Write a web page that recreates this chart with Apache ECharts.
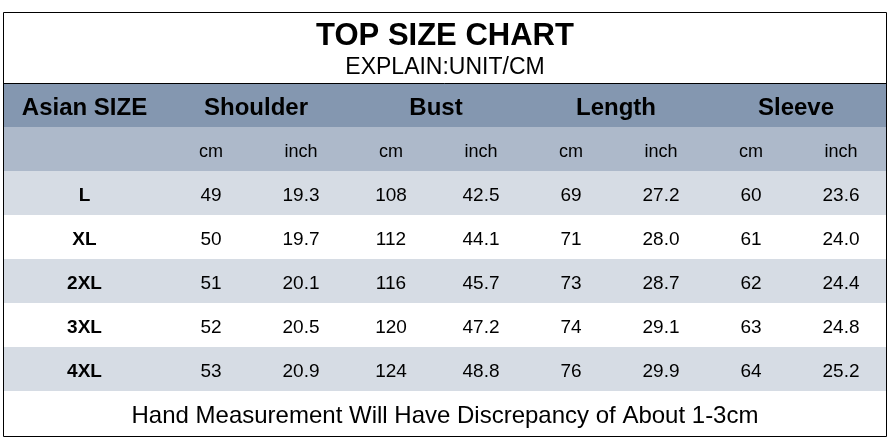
<!DOCTYPE html>
<html>
<head>
<meta charset="utf-8">
<script src="https://cdn.jsdelivr.net/npm/echarts@6/dist/echarts.min.js"></script>
<style>html,body{margin:0;padding:0;background:#fff;}#c{width:890px;height:445px;}</style>
</head>
<body>
<div id="c"></div>
<script>
// ---- data ----
const titleText = 'TOP SIZE CHART';
const subtitleText = 'EXPLAIN:UNIT/CM';
const footerText = 'Hand Measurement Will Have Discrepancy of About 1-3cm';
const sizeHeader = 'Asian SIZE';
const sizes = ['L', 'XL', '2XL', '3XL', '4XL'];
const measures = ['Shoulder', 'Bust', 'Length', 'Sleeve'];
const units = ['cm', 'inch'];
const shoulderCm = [49, 50, 51, 52, 53];
const shoulderIn = [19.3, 19.7, 20.1, 20.5, 20.9];
const bustCm = [108, 112, 116, 120, 124];
const bustIn = [42.5, 44.1, 45.7, 47.2, 48.8];
const lengthCm = [69, 71, 73, 74, 76];
const lengthIn = [27.2, 28.0, 28.7, 29.1, 29.9];
const sleeveCm = [60, 61, 62, 63, 64];
const sleeveIn = [23.6, 24.0, 24.4, 24.8, 25.2];

// ---- layout / style ----
const FONT = "'Liberation Sans', Arial, sans-serif";
const DY = 3;
const rowNames = ['head1', 'head2'].concat(sizes);
const colNames = [];
measures.forEach(m => units.forEach(u => colNames.push(m + ' ' + u)));
const rowColors = ['#8497b0', '#adb9ca', '#d6dce4', '#ffffff', '#d6dce4', '#ffffff', '#d6dce4'];

const valueCols = [shoulderCm, shoulderIn, bustCm, bustIn, lengthCm, lengthIn, sleeveCm, sleeveIn];
const valueData = [], valueLabels = [];
valueCols.forEach((arr, c) => {
  arr.forEach((v, r) => {
    valueData.push([c, r + 2]);
    valueLabels.push(c % 2 === 1 ? v.toFixed(1) : String(v));
  });
});
const unitData = colNames.map((n, c) => [c, 1]);
const measureData = measures.map((m, i) => [i * 2, 0]);
const sizeData = sizes.map((s, i) => [0, i + 2]);

function bgRender(params, api) {
  const row = api.value(1);
  const p = api.coord([0, row]);
  const h = api.size([0, 1])[1];
  const cs = params.coordSys;
  return {
    type: 'rect',
    shape: { x: cs.x, y: p[1] - h / 2, width: cs.width, height: h },
    style: { fill: rowColors[row] }
  };
}
function textEl(x, y, text, size, bold) {
  return {
    type: 'text',
    x: x, y: y + DY,
    style: {
      text: text, fill: '#000', font: (bold ? 'bold ' : '') + size + 'px ' + FONT,
      align: 'center', verticalAlign: 'middle'
    }
  };
}

const chart = echarts.init(document.getElementById('c'), null, { renderer: 'canvas' });
chart.setOption({
  backgroundColor: '#fff',
  animation: false,
  grid: [
    { left: 3, top: 83, width: 163, height: 308 },
    { left: 166, top: 83, width: 720, height: 308 }
  ],
  xAxis: [
    { type: 'category', gridIndex: 0, data: ['size'], show: false },
    { type: 'category', gridIndex: 1, data: colNames, show: false }
  ],
  yAxis: [
    { type: 'category', gridIndex: 0, data: rowNames, inverse: true, show: false },
    { type: 'category', gridIndex: 1, data: rowNames, inverse: true, show: false }
  ],
  series: [
    { type: 'custom', xAxisIndex: 0, yAxisIndex: 0, data: rowNames.map((n, i) => [0, i]), renderItem: bgRender, silent: true, z: 1 },
    { type: 'custom', xAxisIndex: 1, yAxisIndex: 1, data: rowNames.map((n, i) => [0, i]), renderItem: bgRender, silent: true, z: 1 },
    {
      type: 'custom', xAxisIndex: 0, yAxisIndex: 0, data: [[0, 0]], z: 3,
      renderItem: function (params, api) {
        const p = api.coord([0, 0]);
        return textEl(p[0], p[1], sizeHeader, 24, true);
      }
    },
    {
      type: 'custom', xAxisIndex: 0, yAxisIndex: 0, data: sizeData, z: 3,
      renderItem: function (params, api) {
        const p = api.coord([api.value(0), api.value(1)]);
        return textEl(p[0], p[1], sizes[params.dataIndex], 19, true);
      }
    },
    {
      type: 'custom', xAxisIndex: 1, yAxisIndex: 1, data: measureData, z: 3,
      renderItem: function (params, api) {
        const c = api.value(0), r = api.value(1);
        const p0 = api.coord([c, r]), p1 = api.coord([c + 1, r]);
        return textEl((p0[0] + p1[0]) / 2, p0[1], measures[params.dataIndex], 24, true);
      }
    },
    {
      type: 'custom', xAxisIndex: 1, yAxisIndex: 1, data: unitData, z: 3,
      renderItem: function (params, api) {
        const p = api.coord([api.value(0), api.value(1)]);
        return textEl(p[0], p[1], units[params.dataIndex % 2], 18, false);
      }
    },
    {
      type: 'custom', xAxisIndex: 1, yAxisIndex: 1, data: valueData, z: 3,
      renderItem: function (params, api) {
        const p = api.coord([api.value(0), api.value(1)]);
        return textEl(p[0], p[1], valueLabels[params.dataIndex], 19, false);
      }
    }
  ],
  graphic: [
    { type: 'text', left: 'center', top: 21, style: { text: titleText, font: 'bold 31px ' + FONT, fill: '#000' }, z: 10 },
    { type: 'text', left: 'center', top: 56, style: { text: subtitleText, font: '23px ' + FONT, fill: '#000' }, z: 10 },
    { type: 'text', left: 'center', top: 404, style: { text: footerText, font: '24px ' + FONT, fill: '#000' }, z: 10 },
    { type: 'line', shape: { x1: 3, y1: 83.5, x2: 886, y2: 83.5 }, style: { stroke: '#000', lineWidth: 1 }, z: 10 },
    { type: 'rect', shape: { x: 3.5, y: 12.5, width: 883, height: 424 }, style: { fill: null, stroke: '#000', lineWidth: 1 }, z: 10 }
  ]
});
</script>
</body>
</html>
